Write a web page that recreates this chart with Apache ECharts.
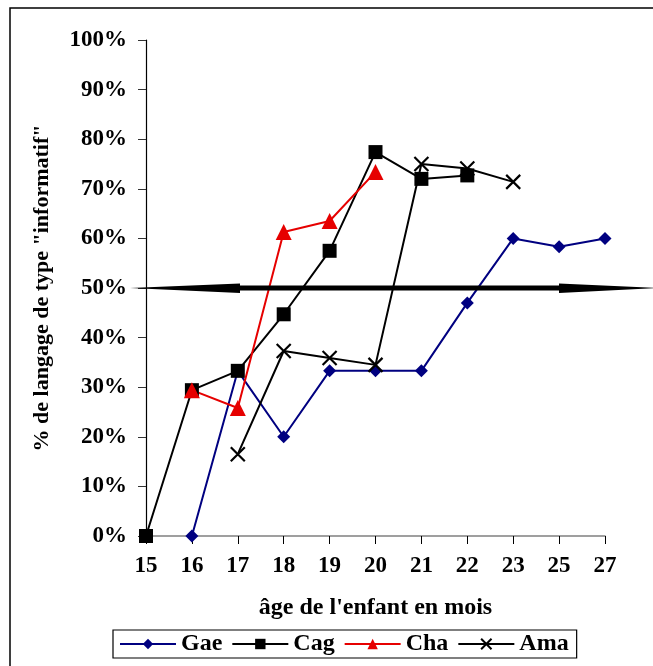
<!DOCTYPE html>
<html><head><meta charset="utf-8">
<script src="https://cdn.jsdelivr.net/npm/echarts@6/dist/echarts.min.js"></script>
<style>html,body{margin:0;padding:0;background:#fff}#c{width:653px;height:666px}</style>
</head><body><div id="c"></div>
<script>
var categories = ['15','16','17','18','19','20','21','22','23','25','27'];
var gae = [null, 0, 33.3, 20, 33.3, 33.3, 33.3, 47, 60, 58.3, 60];
var cag = [0, 29.4, 33.3, 44.7, 57.5, 77.4, 72, 72.7, null, null, null];
var cha = [null, 29.4, 25.8, 61.3, 63.5, 73.4, null, null, null, null, null];
var ama = [null, null, 16.5, 37.3, 35.9, 34.5, 75, 74.1, 71.4, null, null];
var refLevel = 50;

var FONT = '"Liberation Serif", "Times New Roman", serif';
var chart = echarts.init(document.getElementById('c'), null, {renderer: 'canvas'});
var xPath = 'path://M0,0L10,10M10,0L0,10';

var option = {
  animation: false,
  backgroundColor: '#fff',
  grid: {left: 146, right: 48, top: 40, bottom: 130, containLabel: false},
  legend: {
    left: 113, top: 630,
    itemWidth: 56, itemHeight: 13, itemGap: 9,
    padding: [2, 8, 2, 6],
    borderColor: '#000', borderWidth: 1.2,
    textStyle: {fontFamily: FONT, fontWeight: 'bold', fontSize: 24, color: '#000'},
    data: ['Gae', 'Cag', 'Cha', 'Ama']
  },
  xAxis: {
    type: 'category', data: categories, boundaryGap: false,
    name: "âge de l'enfant en mois", nameLocation: 'middle', nameGap: 60,
    nameTextStyle: {fontFamily: FONT, fontWeight: 'bold', fontSize: 24, color: '#000'},
    axisLine: {lineStyle: {color: '#808080', width: 1.5}},
    axisTick: {show: true, alignWithLabel: true, length: 8, lineStyle: {color: '#000'}},
    axisLabel: {fontFamily: FONT, fontWeight: 'bold', fontSize: 23, color: '#000', margin: 19},
    splitLine: {show: false}
  },
  yAxis: {
    type: 'value', min: 0, max: 100, interval: 10,
    name: '% de langage de type "informatif"', nameLocation: 'middle', nameGap: 93, nameRotate: 90,
    nameTextStyle: {fontFamily: FONT, fontWeight: 'bold', fontSize: 22, color: '#000'},
    axisLine: {show: true, lineStyle: {color: '#000', width: 1.2}},
    axisTick: {show: true, length: 8, inside: false, lineStyle: {color: '#333'}},
    axisLabel: {fontFamily: FONT, fontWeight: 'bold', fontSize: 23, color: '#000', margin: 19,
      formatter: function (v) { return v + '%'; }},
    splitLine: {show: false}
  },
  series: [
    {name: 'Gae', type: 'line', data: gae, connectNulls: false,
      symbol: 'diamond', symbolSize: 13,
      lineStyle: {color: '#000080', width: 2}, itemStyle: {color: '#000080'}},
    {name: 'Cag', type: 'line', data: cag,
      symbol: 'rect', symbolSize: 14,
      lineStyle: {color: '#000', width: 2}, itemStyle: {color: '#000'}},
    {name: 'Cha', type: 'line', data: cha,
      symbol: 'triangle', symbolSize: 16,
      lineStyle: {color: '#e60000', width: 2}, itemStyle: {color: '#e60000'}},
    {name: 'Ama', type: 'line', data: ama,
      symbol: xPath, symbolSize: 14,
      lineStyle: {color: '#000', width: 2},
      itemStyle: {color: 'rgba(0,0,0,0)', borderColor: '#000', borderWidth: 2.2}}
  ]
};
chart.setOption(option);

var y50 = chart.convertToPixel({yAxisIndex: 0}, refLevel);
var xLeftTip = 130, xLeftBase = 240, xRightBase = 559, xRightTip = 660;
chart.setOption({
  graphic: [
    {type: 'rect', shape: {x: 10, y: 8, width: 700, height: 700}, silent: true,
      style: {fill: 'none', stroke: '#000', lineWidth: 1.5}, z: 100},
    {type: 'rect', shape: {x: xLeftBase, y: y50 - 2.5, width: xRightBase - xLeftBase, height: 5},
      style: {fill: '#000'}, z: 50},
    {type: 'polygon', shape: {points: [[xLeftTip, y50], [xLeftBase, y50 - 4.5], [xLeftBase, y50 + 5]]},
      style: {fill: '#000'}, z: 50},
    {type: 'polygon', shape: {points: [[xRightTip, y50], [xRightBase, y50 - 4.5], [xRightBase, y50 + 5]]},
      style: {fill: '#000'}, z: 50}
  ]
});
</script>
</body></html>
